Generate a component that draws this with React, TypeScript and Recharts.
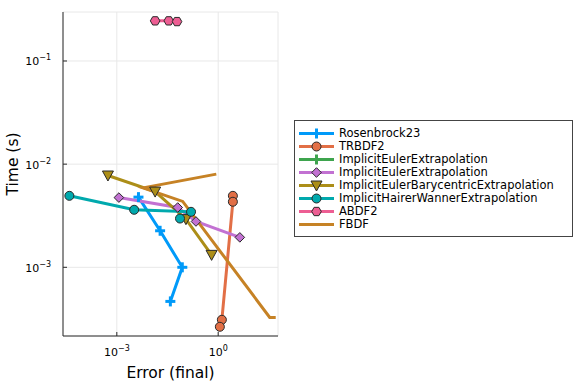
import React from "react"
import { LineChart, Line, XAxis, YAxis, CartesianGrid } from "recharts"

// [error (final), time (s)] pairs
const rosenbrock23 = [
  [4.37e-3, 4.79e-3],
  [0.0191, 2.26e-3],
  [0.0867, 1.0e-3],
  [0.0384, 4.67e-4],
]
const trbdf2 = [
  [2.72, 4.93e-3],
  [2.72, 4.32e-3],
  [1.285, 3.1e-4],
  [1.12, 2.65e-4],
]
const implicitEuler: number[][] = []
const implicitEuler2 = [
  [1.15e-3, 4.74e-3],
  [0.0634, 3.8e-3],
  [0.22, 2.78e-3],
  [4.37, 1.95e-3],
]
const barycentric = [
  [5.46e-4, 7.76e-3],
  [0.0136, 5.42e-3],
  [0.111, 2.93e-3],
  [0.638, 1.32e-3],
]
const hairerWanner = [
  [3.94e-5, 4.93e-3],
  [3.26e-3, 3.61e-3],
  [0.157, 3.45e-3],
  [0.0741, 2.97e-3],
]
const abdf2 = [
  [0.0136, 0.245],
  [0.0344, 0.245],
  [0.0605, 0.241],
]
const fbdf = [
  [0.879, 8.0e-3],
  [6.01e-3, 5.89e-3],
  [0.0891, 4.35e-3],
  [33.5, 3.27e-4],
  [50.4, 3.27e-4],
]

const xTicks = [1e-3, 1e0]
const yTicks = [1e-3, 1e-2, 1e-1]

type MarkerKind = "cross" | "circle" | "diamond" | "dtriangle" | "hexagon" | "none"

const series = [
  { name: "Rosenbrock23", data: rosenbrock23, color: "#009AF9", marker: "cross" as MarkerKind },
  { name: "TRBDF2", data: trbdf2, color: "#E26F46", marker: "circle" as MarkerKind },
  { name: "ImplicitEulerExtrapolation", data: implicitEuler, color: "#3EA44E", marker: "cross" as MarkerKind },
  { name: "ImplicitEulerExtrapolation", data: implicitEuler2, color: "#C271D2", marker: "diamond" as MarkerKind },
  { name: "ImplicitEulerBarycentricExtrapolation", data: barycentric, color: "#AC8E18", marker: "dtriangle" as MarkerKind },
  { name: "ImplicitHairerWannerExtrapolation", data: hairerWanner, color: "#00A9AD", marker: "circle" as MarkerKind },
  { name: "ABDF2", data: abdf2, color: "#ED5E93", marker: "hexagon" as MarkerKind },
  { name: "FBDF", data: fbdf, color: "#C68225", marker: "none" as MarkerKind },
]

const FONT = "'DejaVu Sans', sans-serif"
const EDGE = "#2a2a2a"

function Marker({ kind, cx, cy, color }: { kind: MarkerKind; cx: number; cy: number; color: string }) {
  if (kind === "cross") {
    return (
      <g>
        <line x1={cx - 5} x2={cx + 5} y1={cy} y2={cy} stroke={color} strokeWidth={3} />
        <line x1={cx} x2={cx} y1={cy - 5} y2={cy + 5} stroke={color} strokeWidth={3} />
      </g>
    )
  }
  if (kind === "circle") {
    return <circle cx={cx} cy={cy} r={4.5} fill={color} stroke={EDGE} strokeWidth={1} />
  }
  if (kind === "diamond") {
    const s = 4.8
    return (
      <polygon
        points={`${cx},${cy - s} ${cx + s},${cy} ${cx},${cy + s} ${cx - s},${cy}`}
        fill={color}
        stroke={EDGE}
        strokeWidth={1}
      />
    )
  }
  if (kind === "dtriangle") {
    return (
      <polygon
        points={`${cx - 5.5},${cy - 4.5} ${cx + 5.5},${cy - 4.5} ${cx},${cy + 5.5}`}
        fill={color}
        stroke={EDGE}
        strokeWidth={1}
      />
    )
  }
  if (kind === "hexagon") {
    const r = 4.8
    const pts = [0, 1, 2, 3, 4, 5]
      .map((i) => {
        const a = (Math.PI / 3) * i
        return `${cx + r * Math.cos(a)},${cy + r * Math.sin(a)}`
      })
      .join(" ")
    return <polygon points={pts} fill={color} stroke={EDGE} strokeWidth={1} />
  }
  return null
}

const expLabel = (v: number) => {
  const e = Math.round(Math.log10(v))
  return e < 0 ? "\u2212" + Math.abs(e) : String(e)
}

const XTick = (props: any) => {
  const { x, y, payload } = props
  return (
    <g>
      <line x1={x} x2={x} y1={y} y2={y - 4} stroke={EDGE} />
      <text x={x} y={y + 20} textAnchor="middle" fontSize={11} fontFamily={FONT} fill="#000">
        10
        <tspan dy={-5} fontSize={8}>
          {expLabel(payload.value)}
        </tspan>
      </text>
    </g>
  )
}

const YTick = (props: any) => {
  const { x, y, payload } = props
  return (
    <g>
      <line x1={x} x2={x + 4} y1={y} y2={y} stroke={EDGE} />
      <text x={x - 12} y={y + 4.5} textAnchor="end" fontSize={11} fontFamily={FONT} fill="#000">
        10
        <tspan dy={-5} fontSize={8}>
          {expLabel(payload.value)}
        </tspan>
      </text>
    </g>
  )
}

const YTitle = (props: any) => {
  const vb = props.viewBox || { y: 12, height: 324 }
  const cy = vb.y + vb.height / 2 - 10
  return (
    <text
      x={13}
      y={cy}
      transform={`rotate(-90, 13, ${cy})`}
      textAnchor="middle"
      dominantBaseline="central"
      fontSize={15.5}
      fontFamily={FONT}
      fill="#000"
    >
      Time (s)
    </text>
  )
}

function LegendBox() {
  return (
    <div
      style={{
        position: "absolute",
        left: 294,
        top: 120,
        width: 279,
        height: 117,
        border: "1px solid #444",
        boxSizing: "border-box",
        background: "#fff",
        fontFamily: FONT,
        fontSize: 11.5,
      }}
    >
      {series.map((s, i) => (
        <div
          key={i}
          style={{ position: "absolute", left: 4, top: 6 + i * 13, height: 13, display: "flex", alignItems: "center" }}
        >
          <svg width={40} height={13} style={{ display: "block" }}>
            <line x1={0} x2={35} y1={6.5} y2={6.5} stroke={s.color} strokeWidth={3} />
            <Marker kind={s.marker} cx={17.5} cy={6.5} color={s.color} />
          </svg>
          <span style={{ whiteSpace: "nowrap", lineHeight: "13px" }}>{s.name}</span>
        </div>
      ))}
    </div>
  )
}

export default function App() {
  return (
    <div style={{ position: "absolute", left: 0, top: 0, width: 576, height: 384, background: "#fff" }}>
      <LineChart width={576} height={384} margin={{ top: 12, right: 298, bottom: 47, left: 62 }}>
        <CartesianGrid stroke="#e8e8e8" strokeWidth={1} />
        <XAxis
          dataKey="x"
          type="number"
          scale="log"
          domain={[Math.pow(10, -4.593), Math.pow(10, 1.77)]}
          allowDataOverflow
          ticks={xTicks}
          height={1}
          tickSize={0}
          tickMargin={0}
          tick={<XTick />}
          axisLine={{ stroke: EDGE }}
          tickLine={false}
          label={{
            value: "Error (final)",
            position: "bottom",
            offset: 30,
            fontSize: 15.5,
            fontFamily: FONT,
            fill: "#000",
          }}
        />
        <YAxis
          dataKey="y"
          type="number"
          scale="log"
          domain={[Math.pow(10, -3.666), Math.pow(10, -0.525)]}
          allowDataOverflow
          ticks={yTicks}
          width={1}
          tickSize={0}
          tickMargin={0}
          tick={<YTick />}
          axisLine={{ stroke: EDGE }}
          tickLine={false}
          label={{ content: (p: any) => <YTitle {...p} /> }}
        />
        {series.map((s, i) => (
          <Line
            key={i}
            data={s.data.map(([x, y]) => ({ x, y }))}
            dataKey="y"
            name={s.name}
            stroke={s.color}
            strokeWidth={3}
            isAnimationActive={false}
            dot={(p: any) => (
              <g key={`d${i}-${p.index}`}>
                <Marker kind={s.marker} cx={p.cx} cy={p.cy} color={s.color} />
              </g>
            )}
            activeDot={false}
          />
        ))}
      </LineChart>
      <LegendBox />
    </div>
  )
}
